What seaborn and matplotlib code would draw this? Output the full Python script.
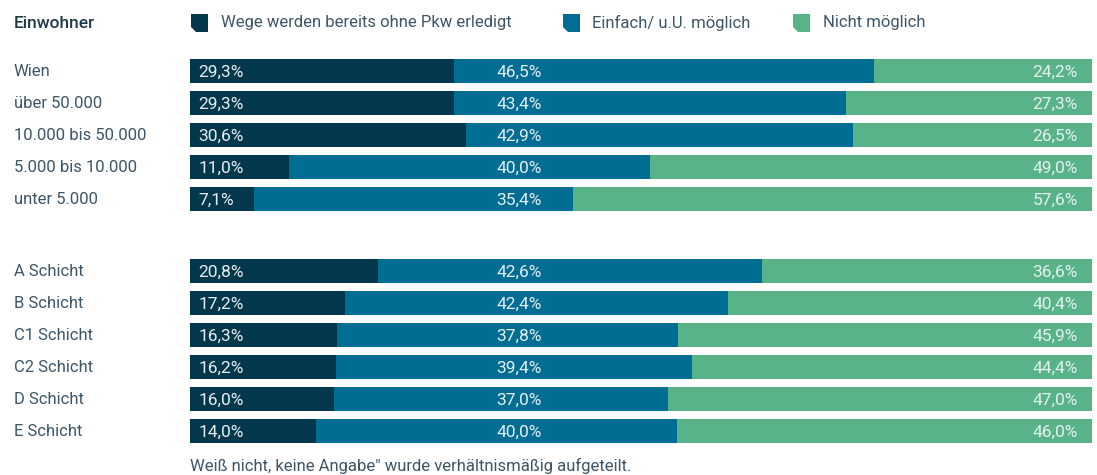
import pandas as pd
import matplotlib.pyplot as plt
import matplotlib.transforms as mtransforms
from matplotlib.patches import Polygon
import seaborn as sns

# Data
rows = ["Wien", "über 50.000", "10.000 bis 50.000", "5.000 bis 10.000", "unter 5.000",
        "A Schicht", "B Schicht", "C1 Schicht", "C2 Schicht", "D Schicht", "E Schicht"]
ohne_pkw = [29.3, 29.3, 30.6, 11.0, 7.1, 20.8, 17.2, 16.3, 16.2, 16.0, 14.0]
einfach = [46.5, 43.4, 42.9, 40.0, 35.4, 42.6, 42.4, 37.8, 39.4, 37.0, 40.0]
nicht = [24.2, 27.3, 26.5, 49.0, 57.6, 36.6, 40.4, 45.9, 44.4, 47.0, 46.0]
series_names = ["Wege werden bereits ohne Pkw erledigt", "Einfach/ u.U. möglich", "Nicht möglich"]
colors = ["#03374b", "#006d93", "#58b488"]

# first five rows = Einwohner, rest = Schicht; a gap separates the two blocks
n_first = 5
gap = 1.25
pos = [i + (gap if i >= n_first else 0) for i in range(len(rows))]

df = pd.DataFrame({"row": rows, "pos": pos,
                   "c1": ohne_pkw, "c2": einfach, "c3": nicht})
df["cum1"] = df["c1"]
df["cum2"] = df["c1"] + df["c2"]
df["cum3"] = df["c1"] + df["c2"] + df["c3"]

sns.set_theme(style="white")
plt.rcParams["font.family"] = ["Roboto", "DejaVu Sans"]

W, H = 1097, 475
fig = plt.figure(figsize=(W / 100, H / 100), dpi=100)
ax = fig.add_axes([190 / W, (H - 447) / H, 902 / W, 392 / H])

# stacked bars by overlaying cumulative sums (widest first)
for col, c in zip(["cum3", "cum2", "cum1"], colors[::-1]):
    sns.barplot(data=df, x=col, y="pos", orient="y", native_scale=True,
                color=c, saturation=1, width=0.75, errorbar=None,
                linewidth=0, ax=ax)

ax.set_xlim(0, 100)
ax.set_ylim(max(pos) + 0.5, -0.5)
ax.axis("off")

lab_col = "#e6eff2"
fs = 12
bfs = 12.5
for _, r in df.iterrows():
    y = r["pos"] + 0.03
    ax.text(0.9, y, f"{r['c1']:.1f}%".replace(".", ","), color=lab_col,
            fontsize=bfs, ha="left", va="center")
    ax.text(36.5, y, f"{r['c2']:.1f}%".replace(".", ","), color=lab_col,
            fontsize=bfs, ha="center", va="center")
    ax.text(98.4, y, f"{r['c3']:.1f}%".replace(".", ","), color=lab_col,
            fontsize=bfs, ha="right", va="center")

# row labels at the left edge of the figure
trans = mtransforms.blended_transform_factory(fig.transFigure, ax.transData)
for _, r in df.iterrows():
    ax.text(14 / W, r["pos"] + 0.03, r["row"], transform=trans, color="#3e5566",
            fontsize=fs, ha="left", va="center")

# header and legend
def fy(y):
    return (H - y) / H

fig.text(14 / W, fy(23), "Einwohner", fontsize=12.5, fontweight="medium",
         color="#1f3a4a", ha="left", va="center")

legend_x = [(191, 221), (563, 592), (793, 823)]
for (sx, tx), name, c in zip(legend_x, series_names, colors):
    x0, x1, y0, y1, cut = sx, sx + 17, 14, 32, 5
    pts = [(x0, y0), (x1, y0), (x1, y1), (x0 + cut, y1), (x0, y1 - cut)]
    poly = Polygon([(x / W, fy(y)) for x, y in pts], closed=True,
                   transform=fig.transFigure, facecolor=c, edgecolor="none")
    fig.add_artist(poly)
    fig.text(tx / W, fy(23), name, fontsize=fs, color="#3e5566",
             ha="left", va="center")

fig.text(190 / W, fy(466), "Weiß nicht, keine Angabe\" wurde verhältnismäßig aufgeteilt.",
         fontsize=fs, color="#3e5566", ha="left", va="center")

fig.savefig("out.png", dpi=100)
